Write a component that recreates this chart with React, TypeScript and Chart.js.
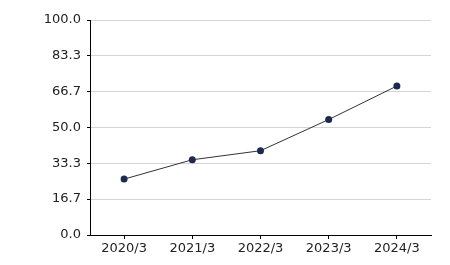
import React, { useEffect, useRef } from "react";
import { Chart, registerables } from "chart.js";

Chart.register(...registerables);

const categories = ["2020/3", "2021/3", "2022/3", "2023/3", "2024/3"];
const values = [26.0, 35.0, 39.2, 53.7, 69.3];
const yTickValues = [0, 16.7, 33.3, 50.0, 66.7, 83.3, 100.0];

export default function App() {
  const ref = useRef<HTMLCanvasElement | null>(null);
  useEffect(() => {
    document.body.style.margin = "0";
    const ctx = ref.current!;
    const chart = new Chart(ctx, {
      type: "line",
      data: {
        labels: categories,
        datasets: [
          {
            data: values,
            borderColor: "#333333",
            borderWidth: 1,
            pointBackgroundColor: "#1b2a4e",
            pointBorderColor: "#1b2a4e",
            pointRadius: 3.5,
            pointBorderWidth: 0,
            tension: 0,
          },
        ],
      },
      options: {
        responsive: false,
        animation: false,
        layout: { padding: { top: 20, right: 19, left: 0, bottom: 0 } },
        plugins: { legend: { display: false }, tooltip: { enabled: false } },
        scales: {
          x: {
            offset: true,
            grid: {
              display: true,
              drawOnChartArea: false,
              drawTicks: true,
              tickLength: 4,
              tickColor: "#000",
              offset: false,
            },
            border: { display: true, color: "#000", width: 1 },
            ticks: {
              color: "#222",
              font: { family: "DejaVu Sans", size: 13 },
              padding: 2,
              maxRotation: 0,
            },
            afterFit: (s: any) => {
              s.height = 30;
            },
          },
          y: {
            min: 0,
            max: 100,
            afterBuildTicks: (s: any) => {
              s.ticks = yTickValues.map((v) => ({ value: v }));
            },
            grid: {
              color: "#d4d4d4",
              lineWidth: 1,
              tickLength: 3,
              tickColor: "#000",
            },
            border: { display: true, color: "#000", width: 1 },
            ticks: {
              color: "#222",
              font: { family: "DejaVu Sans", size: 13 },
              padding: 6,
              callback: (v: any) => Number(v).toFixed(1),
            },
            afterFit: (s: any) => {
              s.width = 90;
            },
          },
        },
      },
    });
    return () => chart.destroy();
  }, []);
  return (
    <div style={{ position: "absolute", left: 0, top: 0, width: 450, height: 265 }}>
      <canvas ref={ref} width={450} height={265} />
    </div>
  );
}
